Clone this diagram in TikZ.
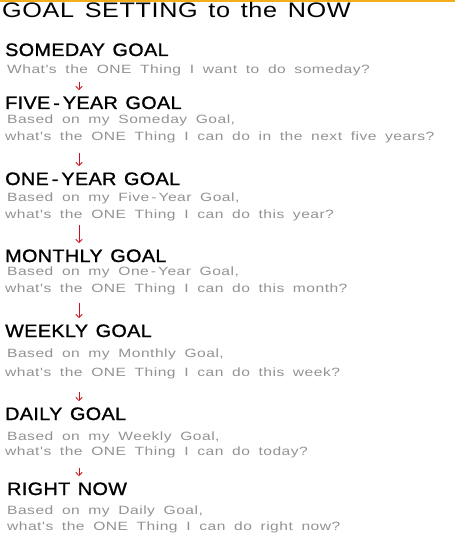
\documentclass[tikz,border=0pt]{standalone}
\usepackage{fontspec}
\usepackage{xcolor}
\usepackage{tikz}
\usetikzlibrary{arrows.meta}
\setmainfont{Liberation Sans}
\newfontfamily\titlefont[FakeStretch=1.2,LetterSpace=3,WordSpace=1.4]{Liberation Sans}
\newfontfamily\headfont[FakeStretch=1.1,FakeBold=1.2,LetterSpace=2,WordSpace=1.3]{Liberation Sans}
\newfontfamily\notefont[FakeStretch=1.3,LetterSpace=4,WordSpace=1.8]{Liberation Sans}
\definecolor{notegray}{HTML}{929292}
\definecolor{arrowred}{HTML}{C8141E}
\definecolor{rulegold}{HTML}{F4AE1B}

\begin{document}
\begin{tikzpicture}[x=1pt,y=-1pt,
  title/.style={anchor=base west,inner sep=0pt,font=\titlefont\fontsize{21}{24}\selectfont},
  heading/.style={anchor=base west,inner sep=0pt,font=\headfont\fontsize{18}{20}\selectfont},
  note/.style={anchor=base west,inner sep=0pt,text=notegray,font=\notefont\fontsize{12}{14}\selectfont},
  goalarrow/.style={-{Straight Barb[length=3.5pt,width=6.5pt]},arrowred,line width=0.8pt,shorten >=6pt}]
\useasboundingbox (0,0) rectangle (455,548);
\fill[rulegold] (0,0) rectangle (455,2);
\node[title] (title) at (2,18) {GOAL SETTING to the NOW};
\coordinate (ax) at (79,0);

\node[heading] (someday) at (5,56) {SOMEDAY GOAL};
\node[note] (somedayq) at (7,74) {What's the ONE Thing I want to do someday?};

\node[heading] (fiveyear) at (5,109) {FIVE\,-\,YEAR GOAL};
\node[note] (fiveyearb) at (7,124) {Based on my Someday Goal,};
\node[note] (fiveyearq) at (5,141) {what's the ONE Thing I can do in the next five years?};

\node[heading] (oneyear) at (5,185) {ONE\,-\,YEAR GOAL};
\node[note] (oneyearb) at (7,201) {Based on my Five\,-\,Year Goal,};
\node[note] (oneyearq) at (5,218) {what's the ONE Thing I can do this year?};

\node[heading] (monthly) at (5,262) {MONTHLY GOAL};
\node[note] (monthlyb) at (7,275) {Based on my One\,-\,Year Goal,};
\node[note] (monthlyq) at (5,292) {what's the ONE Thing I can do this month?};

\node[heading] (weekly) at (5,337) {WEEKLY GOAL};
\node[note] (weeklyb) at (7,357) {Based on my Monthly Goal,};
\node[note] (weeklyq) at (5,376) {what's the ONE Thing I can do this week?};

\node[heading] (daily) at (5,420) {DAILY GOAL};
\node[note] (dailyb) at (7,440) {Based on my Weekly Goal,};
\node[note] (dailyq) at (5,455) {what's the ONE Thing I can do today?};

\node[heading] (rightnow) at (7,495) {RIGHT NOW};
\node[note] (rightnowb) at (7,514) {Based on my Daily Goal,};
\node[note] (rightnowq) at (7,530) {what's the ONE Thing I can do right now?};

\draw[goalarrow,shorten <=5pt] (somedayq.south -| ax) -- (fiveyear.north -| ax);
\draw[goalarrow,shorten <=9pt] (fiveyearq.south -| ax) -- (oneyear.north -| ax);
\draw[goalarrow,shorten <=4pt] (oneyearq.south -| ax) -- (monthly.north -| ax);
\draw[goalarrow,shorten <=8pt] (monthlyq.south -| ax) -- (weekly.north -| ax);
\draw[goalarrow,shorten <=13pt] (weeklyq.south -| ax) -- (daily.north -| ax);
\draw[goalarrow,shorten <=10pt] (dailyq.south -| ax) -- (rightnow.north -| ax);
\end{tikzpicture}
\end{document}
